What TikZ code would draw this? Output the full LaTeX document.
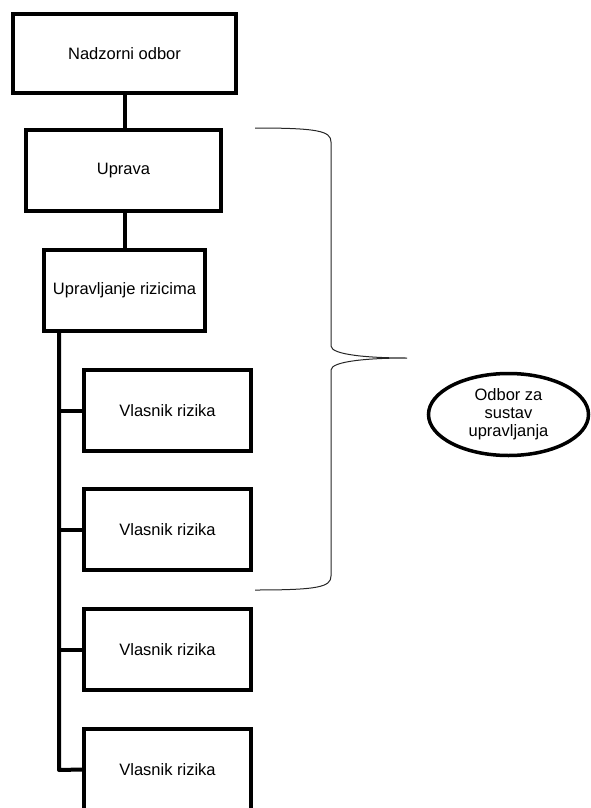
\documentclass[tikz,border=0pt]{standalone}
\usepackage{fontspec}
\setmainfont{Liberation Sans}
\usetikzlibrary{shapes.geometric}

\begin{document}
\begin{tikzpicture}[x=1pt, y=-1pt,
		font=\fontsize{16.5}{18}\selectfont,
		orgbox/.style={draw, line width=4pt, inner sep=0pt, align=center},
		link/.style={line width=4pt},
		brace/.style={line width=1pt, black!85},
		boardoval/.style={draw, ellipse, line width=3.5pt, inner sep=0pt, align=center,
			minimum width=160pt, minimum height=82pt}]
	% Page size of the reference
	\useasboundingbox (0,0) rectangle (591,808);
	
	% Chain at the top
	\node[orgbox, minimum width=223pt, minimum height=79pt] (nadzor) at (124.5,53.5) {Nadzorni odbor};
	\node[orgbox, minimum width=195pt, minimum height=81pt] (uprava) at (123.5,170.5) {Uprava};
	\node[orgbox, minimum width=161pt, minimum height=81pt] (rizici) at (124.5,290.5) {Upravljanje rizicima};
	\draw[link] (nadzor.south -| 125,0) -- (uprava.north -| 125,0);
	\draw[link] (uprava.south -| 125,0) -- (rizici.north -| 125,0);
	
	% Risk owners
	\foreach \i/\y in {1/410.5, 2/529.5, 3/649.5, 4/769.5}
		\node[orgbox, minimum width=167pt, minimum height=81pt] (vlasnik\i) at (167.5,\y) {Vlasnik rizika};
	
	% Trunk and branches
	\coordinate (trunk) at (59,770);
	\draw[link, line join=round] (rizici.south -| trunk) -- (trunk) -- (vlasnik4.west);
	\foreach \i in {1,2,3}
		\draw[link] (vlasnik\i.west -| trunk) -- (vlasnik\i.west);
	
	% Curly brace
	\coordinate (tip) at (407,358);
	\draw[brace] (255,128) .. controls (318,128) and (331,131) .. (331,142)
		-- (331,346) .. controls (331,355) and (370,358) .. (tip)
		.. controls (370,358) and (331,361) .. (331,370)
		-- (331,576) .. controls (331,587) and (318,590) .. (255,590);
	
	% Board
	\node[boardoval] (odbor) at (508.5,414.5) {Odbor za\\sustav\\upravljanja};
\end{tikzpicture}
\end{document}
